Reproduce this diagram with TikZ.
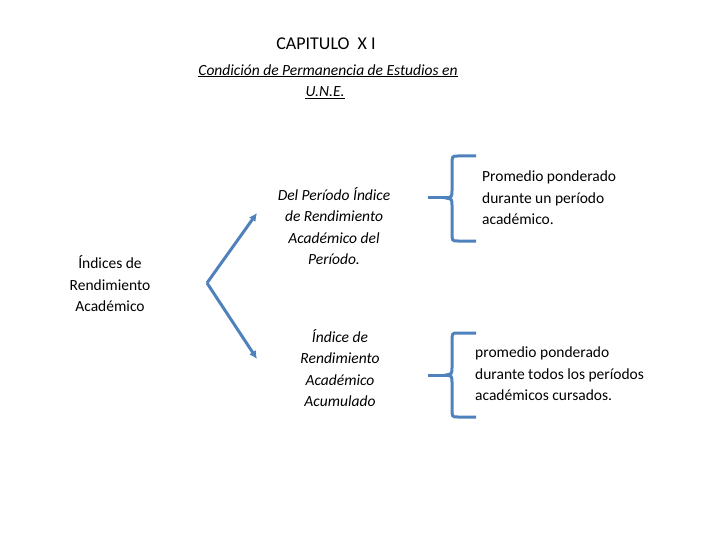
\documentclass[tikz,border=0pt]{standalone}
\usepackage{fontspec}
\setmainfont{Carlito}
\usetikzlibrary{arrows.meta}
\begin{document}
\begin{tikzpicture}[x=1pt,y=-1pt,
  blueline/.style={draw={rgb,255:red,79;green,129;blue,189},line width=3pt},
  txt/.style={font=\fontsize{15.5}{21.5}\selectfont,align=center,inner sep=0pt},
  ul/.style={txt,font=\itshape\fontsize{15.5}{21.5}\selectfont,inner sep=0pt,append after command={([yshift=-1pt]\tikzlastnode.base west) edge[black,line width=0.8pt] ([yshift=-1pt]\tikzlastnode.base east)}}]
\useasboundingbox (0,0) rectangle (720,540);
\node[txt,font=\fontsize{18}{20}\selectfont] (title) at (326,44) {CAPITULO\ \ X I};
\node[ul] (sub1) at (328,70) {Condición de Permanencia de Estudios en};
\node[ul] (sub2) at (325,92) {U.N.E.};
\node[txt] (ind) at (110,284) {Índices de\\Rendimiento\\Académico};
\node[txt,font=\itshape\fontsize{15.5}{21.5}\selectfont] (p1) at (334,226) {Del Período Índice\\de Rendimiento\\Académico del\\Período.};
\node[txt,font=\itshape\fontsize{15.5}{21.5}\selectfont] (p2) at (340,368) {Índice de\\Rendimiento\\Académico\\Acumulado};
\node[txt,align=left,anchor=west] (d1) at (482,198) {Promedio ponderado\\durante un período\\académico.};
\node[txt,align=left,anchor=west] (d2) at (475,374) {promedio ponderado\\durante todos los períodos\\académicos cursados.};
\coordinate (v) at (207,283);
\coordinate (a1) at (257,213);
\coordinate (a2) at (257,359);
\draw[blueline,-{Latex[length=8pt,width=8pt]}] (v) -- (a1);
\draw[blueline,-{Latex[length=8pt,width=8pt]}] (v) -- (a2);
\coordinate (b1) at (451,198);
\coordinate (b2) at (451,375);
\draw[blueline] (476,156) -- (458,156) .. controls (452,156) .. (452,165) -- (452,190) .. controls (452,197) .. (446,198) .. controls (452,199) .. (452,206) -- (452,232) .. controls (452,241) .. (458,241) -- (476,241);
\draw[blueline] (b1) -- (428,198);
\draw[blueline] (476,333) -- (458,333) .. controls (452,333) .. (452,342) -- (452,367) .. controls (452,374) .. (446,375) .. controls (452,376) .. (452,383) -- (452,408) .. controls (452,417) .. (458,417) -- (476,417);
\draw[blueline] (b2) -- (428,375);
\end{tikzpicture}
\end{document}
